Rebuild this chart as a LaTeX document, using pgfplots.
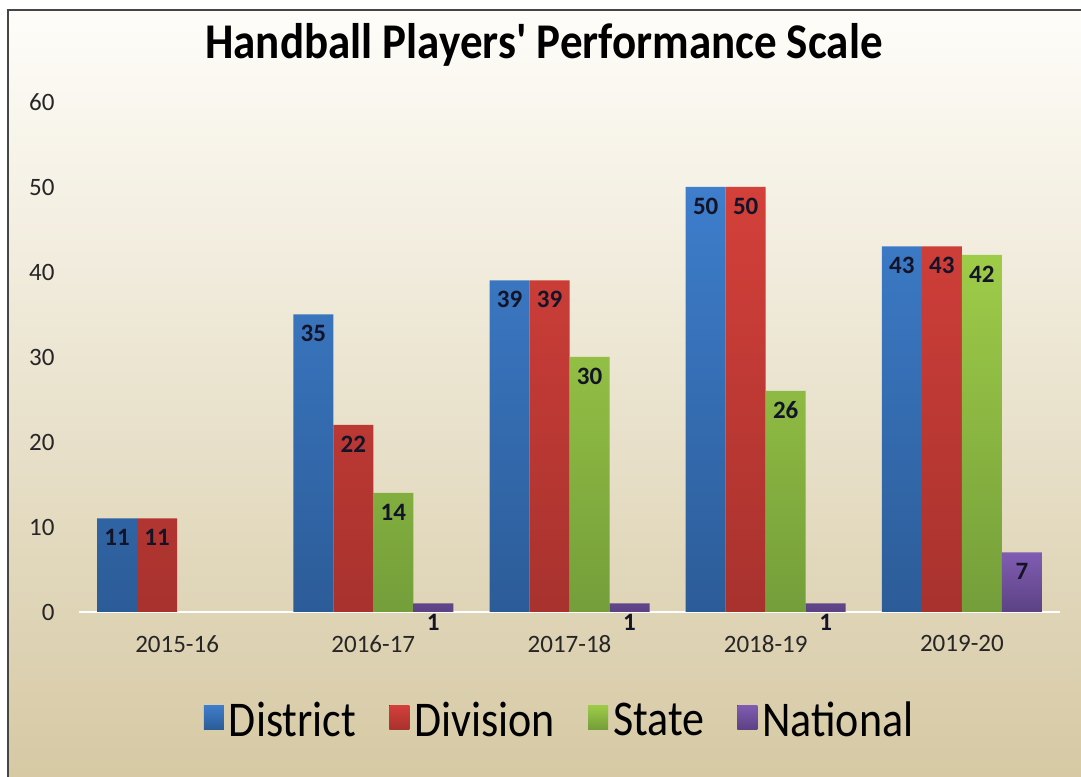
\documentclass[border=0pt]{standalone}
\usepackage{pgfplots}
\pgfplotsset{compat=1.18}
\usepackage{fontspec}
\setmainfont{Carlito}
\newfontfamily\legendfont[FakeStretch=0.88]{Carlito}
\newfontfamily\titlefont[FakeStretch=0.9]{Carlito}
\definecolor{bgtop}{RGB}{254,253,249}
\definecolor{bgmid}{RGB}{243,238,222}
\definecolor{bgbot}{RGB}{214,201,164}
\definecolor{bluet}{RGB}{62,126,204}
\definecolor{blueb}{RGB}{44,92,152}
\definecolor{redt}{RGB}{212,64,58}
\definecolor{redb}{RGB}{168,50,46}
\definecolor{greent}{RGB}{158,204,72}
\definecolor{greenb}{RGB}{116,158,58}
\definecolor{purpt}{RGB}{128,92,178}
\definecolor{purpb}{RGB}{92,66,132}
\definecolor{framec}{RGB}{70,70,70}
\definecolor{labc}{RGB}{20,20,40}
\begin{document}
\begin{tikzpicture}[x=1pt,y=1pt]
\useasboundingbox (0,0) rectangle (1081,776);
\clip (0,0) rectangle (1081,776);
\fill[white] (0,0) rectangle (1081,776);
\shade[top color=bgtop, middle color=bgmid, bottom color=bgbot] (8,0) rectangle (1081,766);
\draw[framec, line width=2pt] (8,-5) -- (8,766) -- (1090,766);
\node[font=\titlefont\fontsize{50}{56}\selectfont\bfseries] at (544,731) {Handball Players' Performance Scale};
\begin{axis}[
  at={(79pt,164pt)}, anchor=south west,
  scale only axis, width=981pt, height=510pt,
  xmin=-0.5, xmax=4.5, ymin=0, ymax=60,
  ybar=0pt, bar width=40pt,
  xtick={0,1,2,3,4},
  xticklabels={2015-16,2016-17,2017-18,2018-19,2019-20},
  ytick={0,10,20,30,40,50,60},
  extra y ticks={0}, extra y tick labels={},
  extra y tick style={grid=major, grid style={white, line width=2pt}},
  axis line style={draw=none},
  major tick length=0pt,
  /pgf/number format/assume math mode=true,
  tick label style={font=\fontsize{25}{30}\selectfont, text=black!85},
  xticklabel style={yshift=-20pt},
  yticklabel style={xshift=-21pt},
  clip=false,
  nodes near coords,
  every node near coord/.append style={font=\fontsize{25}{30}\selectfont\bfseries, anchor=center, yshift=-19pt, text=labc},
  sq legend/.style={legend image code/.code={\fill[##1] (0pt,-9pt) rectangle (20pt,15pt);}},
  legend style={at={(0.49,-0.212)}, anchor=center, draw=none, fill=none,
    legend columns=-1, font=\legendfont\fontsize{50}{56}\selectfont,
    /tikz/every odd column/.append style={column sep=3pt},
    /tikz/every even column/.append style={column sep=31pt}},
]
\addplot[draw=none, top color=bluet, bottom color=blueb, sq legend] coordinates {(0,11) (1,35) (2,39) (3,50) (4,43)};
\addplot[draw=none, top color=redt, bottom color=redb, sq legend] coordinates {(0,11) (1,22) (2,39) (3,50) (4,43)};
\addplot[draw=none, top color=greent, bottom color=greenb, sq legend] coordinates {(1,14) (2,30) (3,26) (4,42)};
\addplot[draw=none, top color=purpt, bottom color=purpb, sq legend] coordinates {(1,1) (2,1) (3,1) (4,7)};
\legend{District,Division,State,National}
\end{axis}
\end{tikzpicture}
\end{document}
